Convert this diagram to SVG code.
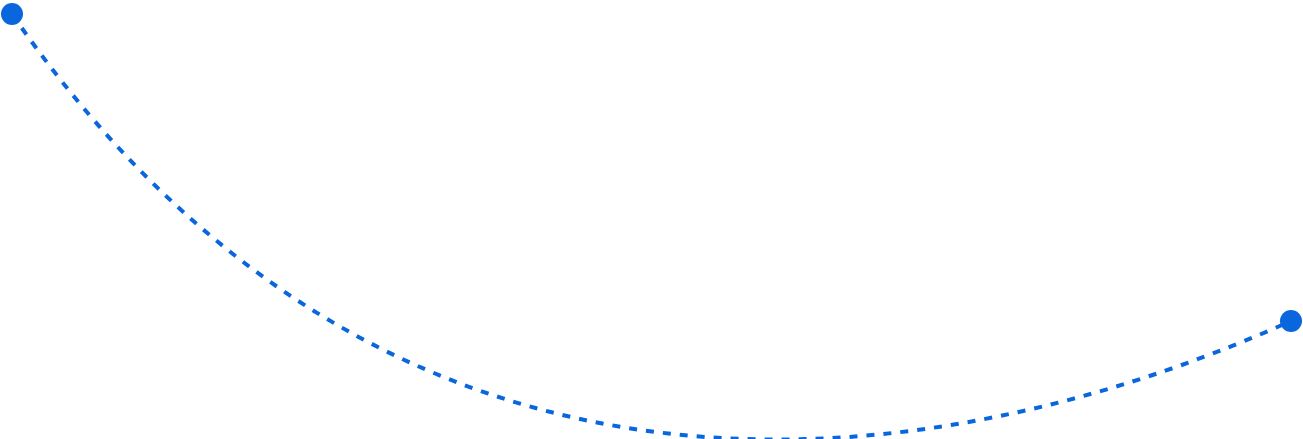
<svg xmlns="http://www.w3.org/2000/svg" width="1303" height="439" viewBox="0 0 1303 439">
<style>
.curve{fill:none;stroke:#0A66DC;stroke-width:4;stroke-dasharray:8 9}
.dot{fill:#0A66DC}
</style>
<rect width="1303" height="439" fill="#fff"/>
<g id="connectors">
<path class="curve" d="M12,14 C412,594 991,456 1291,321"/>
</g>
<g id="start"><circle class="dot" cx="12" cy="14" r="11"/></g>
<g id="end"><circle class="dot" cx="1291" cy="321" r="11"/></g>
</svg>
